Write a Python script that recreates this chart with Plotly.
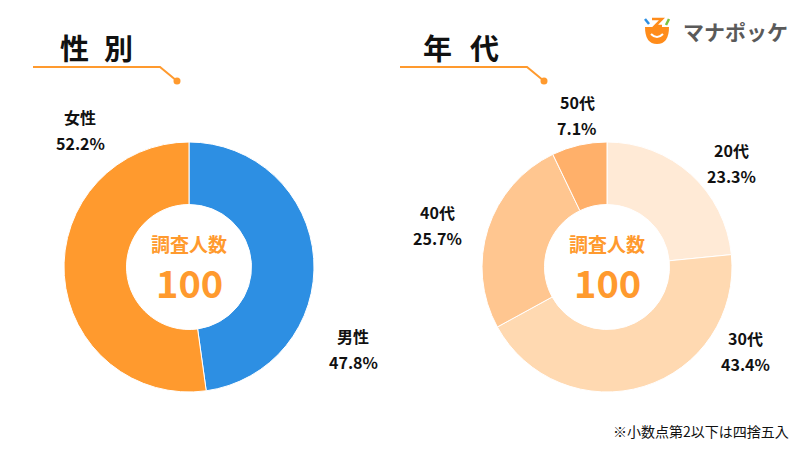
import plotly.graph_objects as go

FONT = "Noto Sans CJK JP"

# ---- data ----
gender_labels = ["男性", "女性"]
gender_values = [47.8, 52.2]
gender_colors = ["#2D8FE3", "#FF9A2E"]

age_labels = ["20代", "30代", "40代", "50代"]
age_values = [23.3, 43.4, 25.7, 7.1]
age_colors = ["#FFEAD6", "#FFD9B1", "#FFC690", "#FFB06A"]

titles = [["性", "別"], ["年", "代"]]
center_label = "調査人数"
center_value = "100"
footnote = "※小数点第2以下は四捨五入"
brand = "マナポッケ"

W, H = 800, 450

def px(x):
    return x / W

def py(y):
    return 1 - y / H

fig = go.Figure()

# donut geometry (pixels)
R = 125
left_c = (189, 267)
right_c = (607, 267)

def dom(c):
    return dict(x=[px(c[0] - R), px(c[0] + R)], y=[py(c[1] + R), py(c[1] - R)])

fig.add_trace(go.Pie(
    labels=gender_labels, values=gender_values, hole=0.5, sort=False,
    direction="clockwise", rotation=0, textinfo="none", hoverinfo="label+percent",
    marker=dict(colors=gender_colors, line=dict(color="white", width=1)),
    domain=dom(left_c), showlegend=False,
))
fig.add_trace(go.Pie(
    labels=age_labels, values=age_values, hole=0.5, sort=False,
    direction="clockwise", rotation=0, textinfo="none", hoverinfo="label+percent",
    marker=dict(colors=age_colors, line=dict(color="white", width=1)),
    domain=dom(right_c), showlegend=False,
))

annotations = []

def txt(x, y, s, size, color="#111111", bold=True, xanchor="center", yanchor="middle"):
    annotations.append(dict(
        x=px(x), y=py(y), xref="paper", yref="paper", showarrow=False,
        text=f"<b>{s}</b>" if bold else s, xanchor=xanchor, yanchor=yanchor,
        borderpad=0, font=dict(family=FONT, size=size, color=color),
    ))

# slice labels: name above, percentage below a shared midline
gender_pos = [(353, 348), (80, 129)]
for lab, val, (x, y) in zip(gender_labels, gender_values, gender_pos):
    txt(x, y + 0.5, lab, 16, yanchor="bottom")
    txt(x, y + 0.5, f"{val}%", 16, yanchor="top")

age_pos = [(731, 163), (745, 350), (437, 225), (577, 115)]
for lab, val, (x, y) in zip(age_labels, age_values, age_pos):
    txt(x, y + 0.5, lab, 16, yanchor="bottom")
    txt(x, y + 0.5, f"{val}%", 16, yanchor="top")

# center texts
for c in (left_c, right_c):
    txt(c[0], 243, center_label, 19, color="#FF9A2E")
    txt(c[0], 281, center_value, 38, color="#FF9A2E")

# titles (characters spaced apart)
for ch, x in zip(titles[0], (74, 118)):
    txt(x, 47, ch, 29)
for ch, x in zip(titles[1], (437, 485)):
    txt(x, 47, ch, 29)

# footnote
txt(790, 431, footnote, 14, bold=False, xanchor="right")

# brand text
txt(682, 31, brand, 21, color="#5A5A5A", xanchor="left")

shapes = []
# title underline with diagonal and dot
for x0 in (33, 400):
    shapes.append(dict(type="path", xref="paper", yref="paper",
                       path=f"M {px(x0)} {py(67)} L {px(x0 + 127)} {py(67)} L {px(x0 + 144)} {py(81)}",
                       line=dict(color="#FF9A2E", width=2)))
    shapes.append(dict(type="circle", xref="paper", yref="paper",
                       x0=px(x0 + 140.5), x1=px(x0 + 147.5), y0=py(84.5), y1=py(77.5),
                       fillcolor="#FF9A2E", line=dict(width=0)))

# logo icon (approximation)
shapes.append(dict(type="path", xref="paper", yref="paper",
                   path=f"M {px(645)} {py(27)} L {px(669)} {py(27)} "
                        f"Q {px(669)} {py(44)} {px(657)} {py(44)} Q {px(645)} {py(44)} {px(645)} {py(27)} Z",
                   fillcolor="#FF8C1A", line=dict(width=0)))
shapes.append(dict(type="path", xref="paper", yref="paper",
                   path=f"M {px(651)} {py(34)} Q {px(657)} {py(40)} {px(663)} {py(34)}",
                   line=dict(color="white", width=2)))
shapes.append(dict(type="path", xref="paper", yref="paper",
                   path=f"M {px(652)} {py(19)} L {px(662)} {py(19)} L {px(655)} {py(26)} L {px(662)} {py(26)}",
                   line=dict(color="#FF8C1A", width=2.5)))
shapes.append(dict(type="line", xref="paper", yref="paper",
                   x0=px(645), y0=py(19), x1=px(649), y1=py(24),
                   line=dict(color="#2D8FE3", width=2.5)))
shapes.append(dict(type="line", xref="paper", yref="paper",
                   x0=px(669), y0=py(19), x1=px(666), y1=py(25),
                   line=dict(color="#7CC242", width=2.5)))

fig.update_layout(
    width=W, height=H, margin=dict(l=0, r=0, t=0, b=0),
    paper_bgcolor="white", plot_bgcolor="white",
    annotations=annotations, shapes=shapes, showlegend=False,
    font=dict(family=FONT),
)

fig.write_html(
    "out.html",
    config={"displayModeBar": False},
    post_script="document.body.style.margin='0';document.body.style.overflow='hidden';",
)
